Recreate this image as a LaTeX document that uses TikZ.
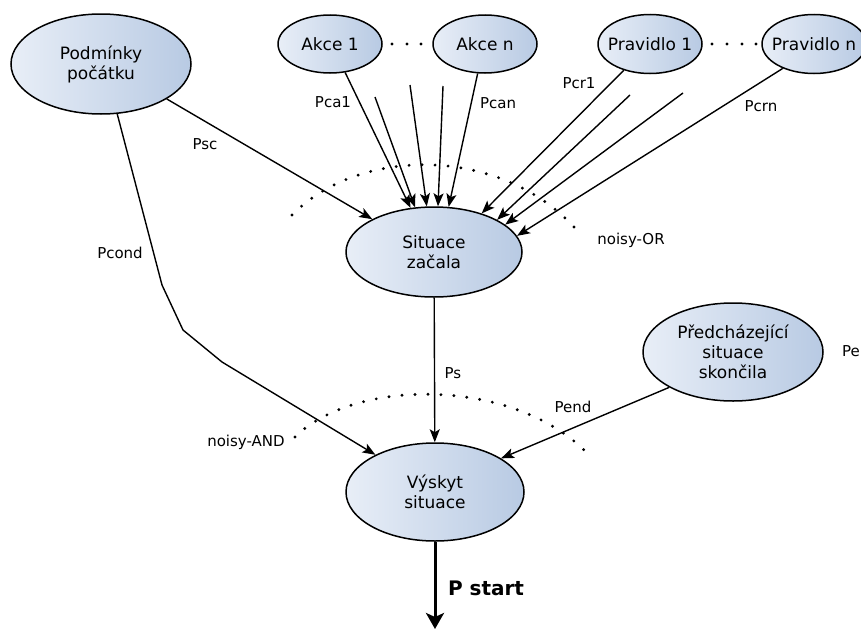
\documentclass[tikz,border=0pt]{standalone}
\usepackage{fontspec}
\setmainfont{DejaVu Sans}
\usetikzlibrary{positioning,arrows.meta,shapes.geometric}
\definecolor{nodeLight}{RGB}{232,238,247}
\definecolor{nodeDark}{RGB}{184,202,227}
\tikzstyle{diagram} = [x = 1pt, y = -1pt]
\tikzstyle{situationStyle} = [ellipse, draw=black, line width=1.5pt, left color=nodeLight, right color=nodeDark, inner sep=0pt]
\tikzstyle{nodeText} = [align=center, font=\fontsize{17}{20}\selectfont]
\tikzstyle{edgeLabel} = [font=\fontsize{15}{18}\selectfont, inner sep=0pt]
\tikzstyle{probArrow} = [line width=1.4pt, -{Stealth[length=13pt, width=10pt, inset=3pt]}]
\tikzstyle{startArrow} = [line width=3pt, -{Stealth[length=16pt, width=18pt, inset=4pt]}]
\tikzstyle{dotArc} = [line width=3.2pt, line cap=round, dash pattern=on 0pt off 13pt]
\newcommand{\situationNode}[5]{\node [situationStyle, minimum width=#3, minimum height=#4, label={[nodeText]center:#5}] (#1) at #2 {};}

\begin{document}
\begin{tikzpicture}[diagram]
  \useasboundingbox (0,0) rectangle (861,629);

  % situations
  \situationNode{podminky}{(101,64)}{180pt}{100pt}{Podmínky\\počátku}
  \situationNode{akce1}{(330,44)}{104pt}{58pt}{Akce 1}
  \situationNode{akcen}{(485,44)}{104pt}{58pt}{Akce n}
  \situationNode{pravidlo1}{(650,44)}{104pt}{59pt}{Pravidlo 1}
  \situationNode{pravidlon}{(814,44)}{104pt}{59pt}{Pravidlo n}
  \situationNode{situace}{(434,252)}{176pt}{90pt}{Situace\\začala}
  \situationNode{predchazejici}{(733,352)}{180pt}{98pt}{Předcházející\\situace\\skončila}
  \situationNode{vyskyt}{(435,492)}{178pt}{98pt}{Výskyt\\situace}

  \foreach \x in {392,407,421} \fill (\x,44) circle (1.6pt);
  \foreach \x in {712,727,742,756} \fill (\x,44) circle (1.6pt);

  % noisy-OR / noisy-AND
  \draw [dotArc] (292,215) .. controls (360,146) and (500,146) .. (575,228);
  \draw [dotArc] (295,437) .. controls (355,378) and (510,378) .. (584,450);

  % arrows
  \coordinate (bend1) at (162,285);
  \coordinate (bend2) at (183,330);
  \coordinate (bend3) at (222,362);
  \coordinate (akceMid1) at (375,97);
  \coordinate (akceMid2) at (410,85);
  \coordinate (akceMid3) at (443,86);
  \coordinate (pravidloMid1) at (630,95);
  \coordinate (pravidloMid2) at (683,93);
  \coordinate (startEnd) at (435,629);

  \draw [probArrow] (podminky.-28) -- (situace.152);
  \draw [probArrow] (podminky.-72) -- (bend1) -- (bend2) -- (bend3) -- (vyskyt.148);
  \draw [probArrow] (akce1.-62) -- (situace.118);
  \draw [probArrow] (akcen.-104) -- (situace.72);
  \draw [probArrow] (pravidlo1.-135) -- (situace.39);
  \draw [probArrow] (pravidlon.-142) -- (situace.11);
  \foreach \from/\to in {akceMid1/113, akceMid2/99, akceMid3/85, pravidloMid1/27, pravidloMid2/21}
    \draw [probArrow] (\from) -- (situace.\to);
  \draw [probArrow] (situace) -- (vyskyt);
  \draw [probArrow] (predchazejici.-151) -- (vyskyt.27);
  \draw [startArrow] (vyskyt) -- (startEnd);

  % labels
  \node [edgeLabel] (psc) at (205,144) {Psc};
  \node [edgeLabel] (pcond) at (120,253) {Pcond};
  \node [edgeLabel] (pca1) at (333,102) {Pca1};
  \node [edgeLabel] (pcan) at (498,103) {Pcan};
  \node [edgeLabel] (pcr1) at (579,83) {Pcr1};
  \node [edgeLabel] (pcrn) at (761,106) {Pcrn};
  \node [edgeLabel] (noisyOr) at (631,240) {noisy-OR};
  \node [edgeLabel] (ps) at (453,373) {Ps};
  \node [edgeLabel] (pend) at (573,407) {Pend};
  \node [edgeLabel] (noisyAnd) at (246,442) {noisy-AND};
  \node [edgeLabel, anchor=west] (pe) at (842,351) {Pe};
  \node [font=\fontsize{20}{24}\selectfont\bfseries] (pstart) at (486,588) {P start};
\end{tikzpicture}
\end{document}
